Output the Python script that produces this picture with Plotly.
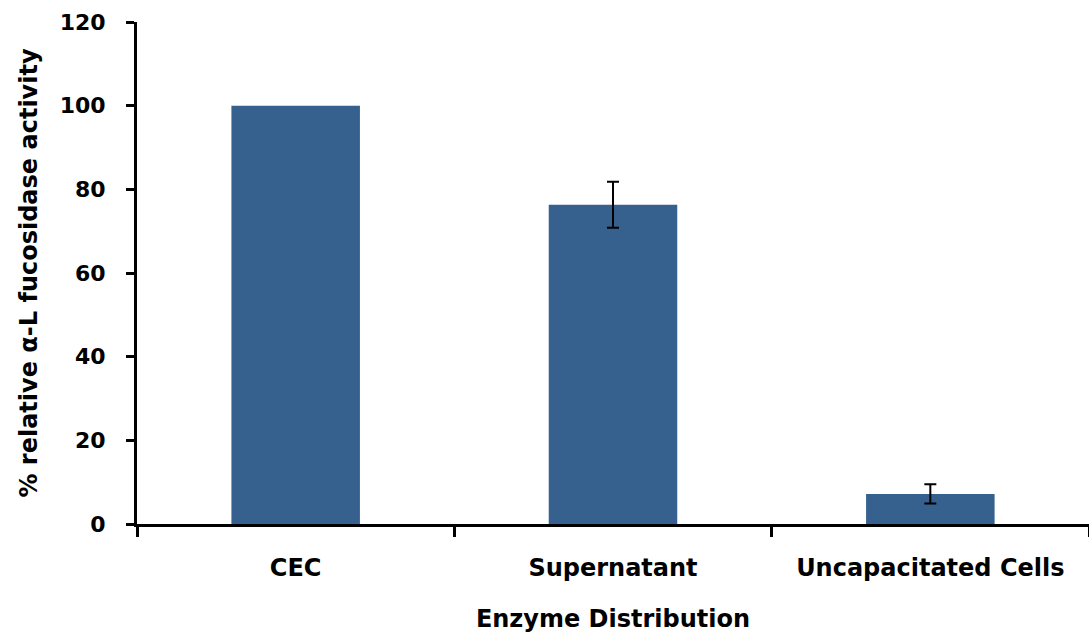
import plotly.graph_objects as go

categories = ["CEC", "Supernatant", "Uncapacitated Cells"]
activity = [100.0, 76.3, 7.2]
errors = [None, 5.5, 2.3]
y_ticks = [0, 20, 40, 60, 80, 100, 120]

FONT = "DejaVu Sans"
BAR = "#36618f"

fig = go.Figure()
fig.add_trace(go.Bar(
    x=categories, y=activity,
    marker=dict(color=BAR, line=dict(width=0)),
    width=0.405,
    hoverinfo="x+y",
))

# error bars only for categories that have them
err_idx = [i for i, e in enumerate(errors) if e is not None]
fig.add_trace(go.Scatter(
    x=[categories[i] for i in err_idx],
    y=[activity[i] for i in err_idx],
    mode="markers",
    marker=dict(size=0.1, color="rgba(0,0,0,0)"),
    error_y=dict(type="data", array=[errors[i] for i in err_idx], visible=True,
                 color="black", thickness=2, width=6),
    hoverinfo="skip",
))

fig.update_layout(
    width=1089, height=639,
    margin=dict(l=137, r=0, t=22, b=115),
    plot_bgcolor="white", paper_bgcolor="white",
    showlegend=False,
    font=dict(family=FONT, size=22, color="black", weight="bold"),
)
fig.update_xaxes(
    showline=True, linecolor="black", linewidth=3,
    ticks="outside", tickson="boundaries", ticklen=10, tickwidth=3, tickcolor="black",
    ticklabelstandoff=20,
    tickfont=dict(family=FONT, size=24, weight="bold"),
    showgrid=False, zeroline=False,
    title=dict(text="Enzyme Distribution", standoff=30,
               font=dict(family=FONT, size=24, weight="bold")),
)
fig.update_yaxes(
    range=[0, 120], tickvals=y_ticks,
    showline=True, linecolor="black", linewidth=3,
    ticks="outside", ticklen=8, tickwidth=3, tickcolor="black",
    ticklabelstandoff=16,
    tickfont=dict(family=FONT, size=22, weight="bold"),
    showgrid=False, zeroline=False,
    title=dict(text="% relative α-L fucosidase activity", standoff=16,
               font=dict(family=FONT, size=24, weight="bold")),
)

fig.write_html("out.html")
